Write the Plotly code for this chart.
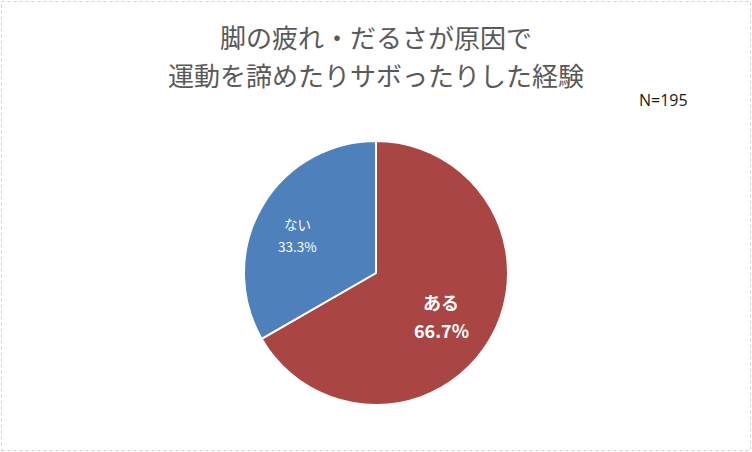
import math
import plotly.graph_objects as go

labels = ["ある", "ない"]
values = [66.7, 33.3]
colors = ["#A94643", "#4E80BC"]
pct_texts = ["66.7%", "33.3%"]
title_lines = ["脚の疲れ・だるさが原因で", "運動を諦めたりサボったりした経験"]
n_label = "N=195"

W, H = 752, 452
cx, cy, R = 376, 273, 132

fig = go.Figure(go.Pie(
    labels=labels,
    values=values,
    textinfo="none",
    marker=dict(colors=colors, line=dict(color="white", width=2)),
    sort=False,
    direction="clockwise",
    rotation=0,
    showlegend=False,
    hoverinfo="label+percent",
    domain=dict(x=[(cx - R) / W, (cx + R) / W], y=[1 - (cy + R) / H, 1 - (cy - R) / H]),
))

# label placement derived from slice mid-angles
label_frac = [0.59, 0.66]
label_dx = [-2, -3]
label_dy = [4, 6]
label_size = [18, 13.5]
label_gap = [28, 22]
label_bold = [True, False]
annotations = []
total = sum(values)
start = 0.0
for lab, val, pct, fr, ddx, ddy, sz, gap, bold in zip(labels, values, pct_texts, label_frac, label_dx,
                                                     label_dy, label_size, label_gap, label_bold):
    mid = (start + val / 2) / total * 2 * math.pi
    start += val
    px = cx + fr * R * math.sin(mid) + ddx
    py = cy - fr * R * math.cos(mid) + ddy
    for line, off in ((lab, -gap / 2), (pct, gap / 2)):
        txt = f"<b>{line}</b>" if bold else line
        annotations.append(dict(
            text=txt, x=px / W, y=1 - (py + off) / H, xref="paper", yref="paper",
            showarrow=False, align="center", xanchor="center", yanchor="middle",
            font=dict(size=sz, color="white", family="Noto Sans CJK JP"),
        ))

for line, ty in zip(title_lines, (36.5, 74.5)):
    annotations.append(dict(
        text=line, x=0.5, y=1 - ty / H, xref="paper", yref="paper",
        showarrow=False, align="center",
        font=dict(size=26, color="#595959", family="Noto Sans CJK JP"),
        xanchor="center", yanchor="middle"))

annotations.append(dict(
    text=n_label, x=663 / W, y=1 - 100 / H, xref="paper", yref="paper",
    showarrow=False, font=dict(size=16, color="#1a1a1a", family="Open Sans"),
    xanchor="center", yanchor="middle"))

fig.update_layout(
    width=W, height=H,
    margin=dict(l=0, r=0, t=0, b=0),
    paper_bgcolor="white",
    plot_bgcolor="white",
    font=dict(family="Noto Sans CJK JP"),
    annotations=annotations,
    shapes=[
        dict(type="rect", xref="paper", yref="paper", x0=1.5 / W, y0=1.5 / H, x1=1 - 1.5 / W, y1=1 - 1.5 / H,
             line=dict(color="#D0D0D0", width=1, dash="dot")),
    ],
)

fig.write_html("out.html", config={"displayModeBar": False},
               post_script="document.body.style.margin='0';document.body.style.overflow='hidden';")
